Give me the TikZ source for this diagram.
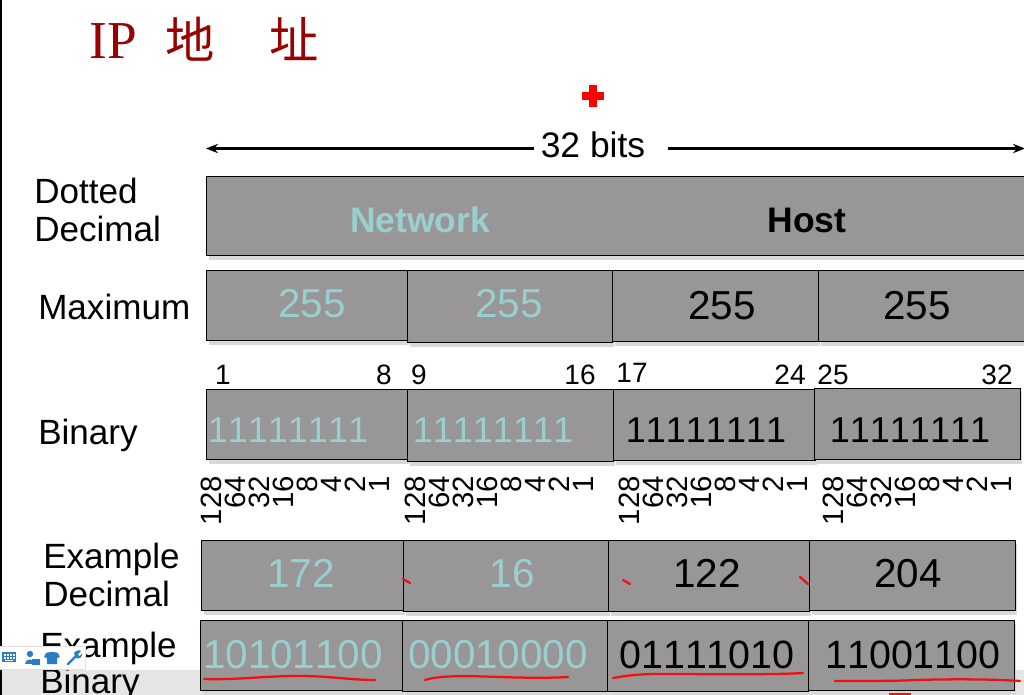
\documentclass[tikz,border=0pt]{standalone}
\usepackage{fontspec}
\setmainfont{Liberation Sans}[Kerning=Off]
\newfontfamily\titleserif{Liberation Serif}
\newfontfamily\cjk{Noto Sans CJK SC}
\usetikzlibrary{arrows.meta}
\definecolor{cellgray}{HTML}{999698}
\definecolor{shadowgray}{HTML}{D8D8D8}
\definecolor{tealtxt}{HTML}{99CFCF}
\definecolor{titlered}{HTML}{990000}
\definecolor{inkred}{HTML}{EE1111}
\definecolor{toolblue}{HTML}{2A7CC7}
\tikzset{
  cellbox/.style={fill=cellgray,draw=black,line width=0.7pt},
  shadowbox/.style={fill=shadowgray},
  lbl/.style={inner sep=0pt,anchor=base west,font=\fontsize{26.3}{26.3}\selectfont,text=black},
  numA/.style={inner sep=0pt,anchor=base,font=\fontsize{30.3}{30.3}\selectfont},
  numC/.style={inner sep=0pt,anchor=base,font=\fontsize{29.6}{29.6}\selectfont},
  numB/.style={inner sep=0pt,anchor=base,font=\fontsize{27}{27}\selectfont},
  idx/.style={inner sep=0pt,anchor=base,font=\fontsize{21}{21}\selectfont},
  wt/.style={inner sep=0pt,anchor=east,rotate=90,font=\fontsize{22}{22}\selectfont},
  ink/.style={draw=inkred,line width=1.7pt,line cap=round,line join=round},
  spanr/.style={draw=black,line width=1.6pt,-{Stealth[length=9pt,width=7pt]}},
  spanl/.style={draw=black,line width=1.6pt,-{Stealth[length=9pt,width=7pt]}},
  ttl/.style={inner sep=0pt,anchor=base west,text=titlered},
  tool/.style={fill=toolblue,draw=none}
}
\newcommand{\cell}[4]{%
  \fill[shadowbox] (#1+3,#2+4) rectangle (#3+1.5,#4+5);
  \path[cellbox] (#1,#2) rectangle (#3,#4);}
\newcommand{\weights}[1]{%
  \foreach \v/\d in {128/0,64/24,32/48,16/72,8/96,4/120,2/144,1/168}{
    \node[wt] (w#1-\v) at (#1+\d,476) {\v};}}
\begin{document}
\begin{tikzpicture}[x=0.75pt,y=-0.75pt]
\useasboundingbox (0,0) rectangle (1024,695);
\fill[white] (0,0) rectangle (1024,695);
% bottom band and page edge
\fill[black!10] (0,670) rectangle (1024,695);
\fill[black] (0,0) rectangle (1.5,695);
% title
\node[ttl,font=\titleserif\fontsize{40}{40}\selectfont] (ttlip) at (89,59) {IP};
\node[ttl,font=\cjk\fontsize{37}{37}\selectfont] (ttlA) at (165,59) {地};
\node[ttl,font=\cjk\fontsize{37}{37}\selectfont] (ttlB) at (269,59) {址};
% red cross
\fill[red] (589,85) rectangle (597,107);
\fill[red] (582,92) rectangle (604,100);
% span
\node[inner sep=0pt,anchor=base,font=\fontsize{26.6}{26.6}\selectfont] (bits) at (593,158) {32 bits};
\coordinate (bl) at (206,148.5);
\coordinate (br) at (1025,148.5);
\coordinate (blg) at (534,148.5);
\coordinate (brg) at (668,148.5);
\draw[spanl] (blg) -- (bl);
\draw[spanr] (brg) -- (br);
% row 1
\cell{206}{176}{1030}{255}
\node[lbl] (dd1) at (34,204) {Dotted};
\node[lbl] (dd2) at (34,242) {Decimal};
\node[inner sep=0pt,anchor=base,text=tealtxt,font=\bfseries\fontsize{26.6}{26.6}\selectfont] (net) at (420,233) {Network};
\node[inner sep=0pt,anchor=base,text=black,font=\bfseries\fontsize{26.6}{26.6}\selectfont] (host) at (807,233) {Host};
% row 2
\cell{206}{270}{407}{340}
\cell{407}{270}{612}{342}
\cell{612}{270}{818}{341}
\cell{818}{270}{1030}{341}
\node[lbl] (maxl) at (38,319) {Maximum};
\node[numA,text=tealtxt] (m1) at (312,317) {255};
\node[numA,text=tealtxt] (m2) at (509,317) {255};
\node[numA] (m3) at (722,320) {255};
\node[numA] (m4) at (917,320) {255};
% row 3
\cell{206}{389}{407}{459}
\cell{407}{389}{613}{461}
\cell{613}{389}{815}{460}
\cell{814}{388}{1020}{459}
\node[lbl] (binl) at (38,444) {Binary};
\node[numB,text=tealtxt] (b1) at (288,442) {11111111};
\node[numB,text=tealtxt] (b2) at (493,442) {11111111};
\node[numB] (b3) at (706,442) {11111111};
\node[numB] (b4) at (910,442) {11111111};
\node[idx] (i1) at (223,384) {1};
\node[idx] (i8) at (384,384) {8};
\node[idx] (i9) at (419,384) {9};
\node[idx] (i16) at (580,384) {16};
\node[idx] (i17) at (632,382) {17};
\node[idx] (i24) at (790,384) {24};
\node[idx] (i25) at (833,384) {25};
\node[idx] (i32) at (997,384) {32};
\weights{211}
\weights{415}
\weights{629}
\weights{833}
% row 4
\cell{201}{540}{403}{610}
\cell{403}{540}{608}{611}
\cell{608}{540}{809}{611}
\cell{809}{540}{1015}{610}
\node[lbl] (ed1) at (43,568) {Example};
\node[lbl] (ed2) at (43,606) {Decimal};
\node[numA,text=tealtxt] (d1) at (301,587) {172};
\node[numA,text=tealtxt] (d2) at (512,587) {16};
\node[numA] (d3) at (707,587) {122};
\node[numA] (d4) at (908,587) {204};
% row 5
\cell{200}{620}{402}{690}
\cell{402}{620}{607}{691}
\cell{607}{620}{808}{691}
\cell{808}{620}{1014}{690}
\node[lbl] (eb1) at (40,657) {Example};
\node[lbl] (eb2) at (40,693) {Binary};
\node[numA,text=tealtxt] (e1) at (293,668) {10101100};
\node[numA,text=tealtxt] (e2) at (498,668) {00010000};
\node[numC] (e3) at (707,668) {01111010};
\node[numC] (e4) at (913,668) {11001100};
% ink marks
\draw[ink] (403,579) -- (410,583);
\draw[ink] (623,580) -- (630,584);
\draw[ink] (800,577) -- (808,584);
\draw[ink] (204,679) .. controls (240,680) and (260,676) .. (300,676) .. controls (330,676) and (350,680) .. (375,680);
\draw[ink] (425,680) .. controls (440,675) and (470,676) .. (500,677) .. controls (530,678) and (550,678) .. (568,677);
\draw[ink] (613,678) .. controls (630,675) and (640,674) .. (660,674) .. controls (710,674) and (770,675) .. (803,673);
\draw[ink] (835,681) .. controls (870,681) and (900,681) .. (915,680) .. controls (950,679) and (990,679) .. (1020,681);
\fill[inkred] (889,693) rectangle (911,695);
% toolbar
\fill[white,draw=black!12] (-1,646) rectangle (85,669);
\path[tool] (2,652) rectangle (16,662);
\foreach \kx in {4,7,10,13}{\fill[white] (\kx,654) rectangle (\kx+1.5,655.5);\fill[white] (\kx,657) rectangle (\kx+1.5,658.5);}
\fill[white] (5,659.5) rectangle (13,660.5);
\fill[tool] (30,654) circle (3.2);
\path[tool] (25,664) .. controls (25,658) and (35,658) .. (35,664) -- cycle;
\path[tool] (32,659) rectangle (40,664.5);
\path[tool] (46,653) -- (50,652) -- (54,652) -- (58,653) -- (60,657) -- (57,658) -- (57,664) -- (47,664) -- (47,658) -- (44,657) -- cycle;
\draw[toolblue,line width=1.8pt,line cap=round] (68,664) -- (77,655);
\path[tool] (74,653) .. controls (76,650) and (80,650) .. (81,651) -- (78,654) -- (79,656) -- (81,655) -- (82,653) .. controls (83,656) and (80,660) .. (76,658) -- cycle;
\end{tikzpicture}
\end{document}
